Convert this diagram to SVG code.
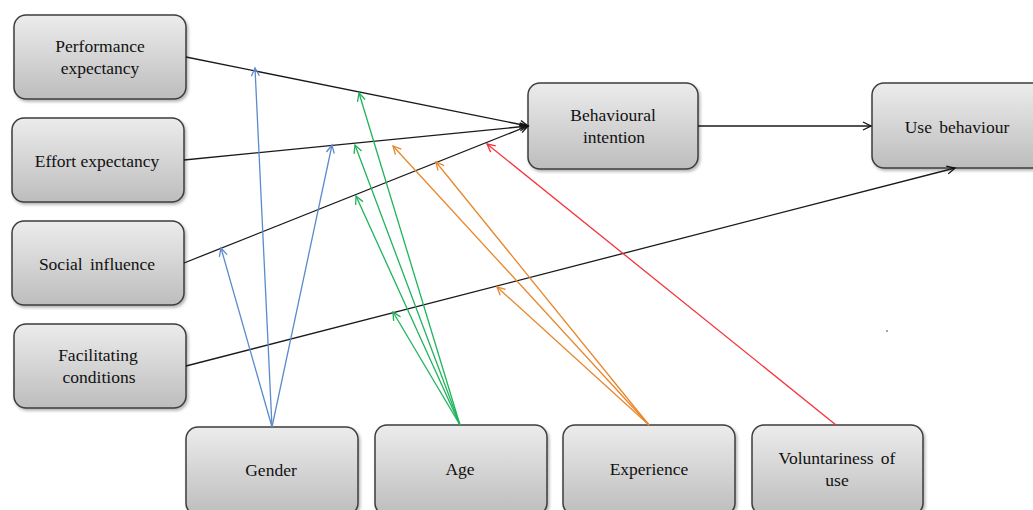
<svg xmlns="http://www.w3.org/2000/svg" width="1033" height="510" viewBox="0 0 1033 510">
<defs>
<linearGradient id="g" x1="0" y1="0" x2="0" y2="1">
<stop offset="0" stop-color="#ececec"/>
<stop offset="1" stop-color="#bdbdbd"/>
</linearGradient>
<filter id="sh" x="-10%" y="-10%" width="125%" height="130%">
<feDropShadow dx="1.5" dy="2" stdDeviation="1.5" flood-color="#000" flood-opacity="0.3"/>
</filter>
<marker id="mk" markerUnits="userSpaceOnUse" markerWidth="12" markerHeight="12" refX="9" refY="5" orient="auto"><path d="M1,1 L9,5 L1,9" fill="none" stroke="#111" stroke-width="1.3"/></marker>
<marker id="mb" markerUnits="userSpaceOnUse" markerWidth="12" markerHeight="12" refX="9" refY="5" orient="auto"><path d="M1,1 L9,5 L1,9" fill="none" stroke="#5b8bcc" stroke-width="1.3"/></marker>
<marker id="mg" markerUnits="userSpaceOnUse" markerWidth="12" markerHeight="12" refX="9" refY="5" orient="auto"><path d="M1,1 L9,5 L1,9" fill="none" stroke="#1fb35a" stroke-width="1.3"/></marker>
<marker id="mo" markerUnits="userSpaceOnUse" markerWidth="12" markerHeight="12" refX="9" refY="5" orient="auto"><path d="M1,1 L9,5 L1,9" fill="none" stroke="#e9862c" stroke-width="1.3"/></marker>
<marker id="mr" markerUnits="userSpaceOnUse" markerWidth="12" markerHeight="12" refX="9" refY="5" orient="auto"><path d="M1,1 L9,5 L1,9" fill="none" stroke="#f5323a" stroke-width="1.3"/></marker>
</defs>
<style>
.box{fill:url(#g);stroke:#3c3c3c;stroke-width:1.5;filter:url(#sh)}
text{font-family:"Liberation Serif","Times New Roman",serif;font-size:17.5px;fill:#111;text-anchor:middle}
.ws{word-spacing:3px}
.k{stroke:#1a1a1a;stroke-width:1.3;fill:none;marker-end:url(#mk)}
.b{stroke:#5b8bcc;stroke-width:1.3;fill:none;marker-end:url(#mb)}
.gr{stroke:#1fb35a;stroke-width:1.3;fill:none;marker-end:url(#mg)}
.o{stroke:#e9862c;stroke-width:1.3;fill:none;marker-end:url(#mo)}
.r{stroke:#f5323a;stroke-width:1.3;fill:none;marker-end:url(#mr)}
</style>
<g id="pe"><rect class="box" x="14" y="15" width="172" height="84" rx="12"/><text x="100" y="52">Performance</text><text x="100" y="74">expectancy</text></g>
<g id="ee"><rect class="box" x="12" y="118" width="172" height="84" rx="12"/><text x="97" y="167">Effort expectancy</text></g>
<g id="si"><rect class="box" x="12" y="221" width="172" height="84" rx="12"/><text class="ws" x="97" y="270">Social influence</text></g>
<g id="fc"><rect class="box" x="14" y="324" width="172" height="84" rx="12"/><text x="98" y="361">Facilitating</text><text x="99" y="383">conditions</text></g>
<g id="bi"><rect class="box" x="528" y="83" width="170" height="86" rx="12"/><text x="613" y="121">Behavioural</text><text x="614" y="143">intention</text></g>
<g id="ub"><rect class="box" x="872" y="83" width="180" height="85" rx="12"/><text class="ws" x="957" y="133">Use behaviour</text></g>
<g id="gender"><rect class="box" x="186" y="427" width="172" height="88" rx="12"/><text x="271" y="476">Gender</text></g>
<g id="age"><rect class="box" x="375" y="425" width="172" height="90" rx="12"/><text x="460" y="475">Age</text></g>
<g id="exp"><rect class="box" x="563" y="425" width="172" height="90" rx="12"/><text x="649" y="475">Experience</text></g>
<g id="vol"><rect class="box" x="752" y="425" width="171" height="90" rx="12"/><text class="ws" x="837" y="464">Voluntariness of</text><text x="837" y="486">use</text></g>
<g id="connectors">
<line class="k" x1="186" y1="57" x2="528" y2="126"/>
<line class="k" x1="184" y1="160" x2="528" y2="126"/>
<line class="k" x1="184" y1="263" x2="528" y2="126"/>
<line class="k" x1="186" y1="366" x2="955" y2="168"/>
<line class="k" x1="698" y1="126" x2="871" y2="126"/>
<line class="b" x1="272" y1="427" x2="255" y2="68"/>
<line class="b" x1="272" y1="427" x2="221" y2="248"/>
<line class="b" x1="272" y1="427" x2="332" y2="145"/>
<line class="gr" x1="460" y1="425" x2="359" y2="93"/>
<line class="gr" x1="460" y1="425" x2="355" y2="145"/>
<line class="gr" x1="460" y1="425" x2="356" y2="196"/>
<line class="gr" x1="460" y1="425" x2="393" y2="312"/>
<line class="o" x1="649" y1="425" x2="393" y2="146"/>
<line class="o" x1="649" y1="425" x2="436" y2="162"/>
<line class="o" x1="649" y1="425" x2="497" y2="287"/>
<line class="r" x1="836" y1="425" x2="487" y2="144"/>
</g>
<circle cx="887" cy="331" r="0.8" fill="#333"/>
</svg>
